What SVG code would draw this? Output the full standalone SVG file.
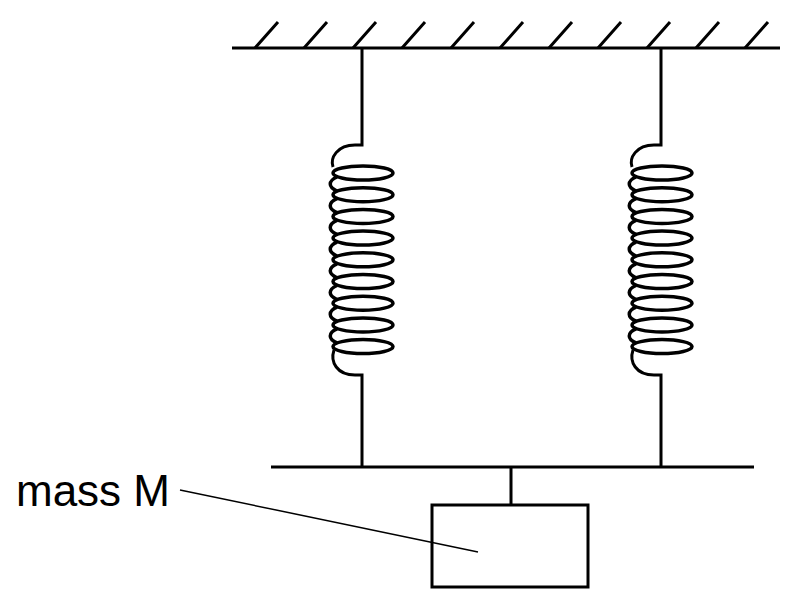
<svg xmlns="http://www.w3.org/2000/svg" width="809" height="605" viewBox="0 0 809 605">
<defs><style>.l{stroke:#000;stroke-width:3;fill:none}.c{stroke:#000;stroke-width:3.5;fill:none}</style>
<g id="spring">
<path class="l" d="M0,48 V145 H-7 C-25,145 -32,158 -29,167"/>
<ellipse class="c" cx="1" cy="173" rx="30" ry="7"/><ellipse class="c" cx="1" cy="194.7" rx="30" ry="7"/><ellipse class="c" cx="1" cy="216.4" rx="30" ry="7"/><ellipse class="c" cx="1" cy="238.1" rx="30" ry="7"/><ellipse class="c" cx="1" cy="259.8" rx="30" ry="7"/><ellipse class="c" cx="1" cy="281.5" rx="30" ry="7"/><ellipse class="c" cx="1" cy="303.2" rx="30" ry="7"/><ellipse class="c" cx="1" cy="324.9" rx="30" ry="7"/><ellipse class="c" cx="1" cy="346.6" rx="30" ry="7"/>
<path class="c" d="M-25,177 C-34,181 -34,187 -25,191 M-25,198.7 C-34,202.7 -34,208.7 -25,212.7 M-25,220.4 C-34,224.4 -34,230.4 -25,234.4 M-25,242.1 C-34,246.1 -34,252.1 -25,256.1 M-25,263.8 C-34,267.8 -34,273.8 -25,277.8 M-25,285.5 C-34,289.5 -34,295.5 -25,299.5 M-25,307.2 C-34,311.2 -34,317.2 -25,321.2 M-25,328.9 C-34,332.9 -34,338.9 -25,342.9"/>
<path class="l" d="M-28,350 C-32,362 -25,375 -7,375 H0 V467"/>
</g></defs>
<g id="ceiling">
<path class="l" d="M232,48 H780"/>
<path class="l" d="M255,48 L278,22 M304,48 L327,22 M353,48 L376,22 M402,48 L425,22 M451,48 L474,22 M500,48 L523,22 M549,48 L572,22 M598,48 L621,22 M647,48 L670,22 M696,48 L719,22 M745,48 L768,22"/>
</g>
<g id="spring-left"><use href="#spring" x="362"/></g>
<g id="spring-right"><use href="#spring" x="661"/></g>
<g id="plate"><path class="l" d="M271,467 H754 M511,467 V505"/></g>
<g id="mass"><rect class="l" x="432" y="505" width="156" height="82"/></g>
<g id="connectors"><path stroke="#000" stroke-width="1.5" d="M180,490 L478,552"/></g>
<g id="label"><text x="16" y="506" font-family="Liberation Sans, Arial, sans-serif" font-size="44">mass M</text></g>
</svg>
